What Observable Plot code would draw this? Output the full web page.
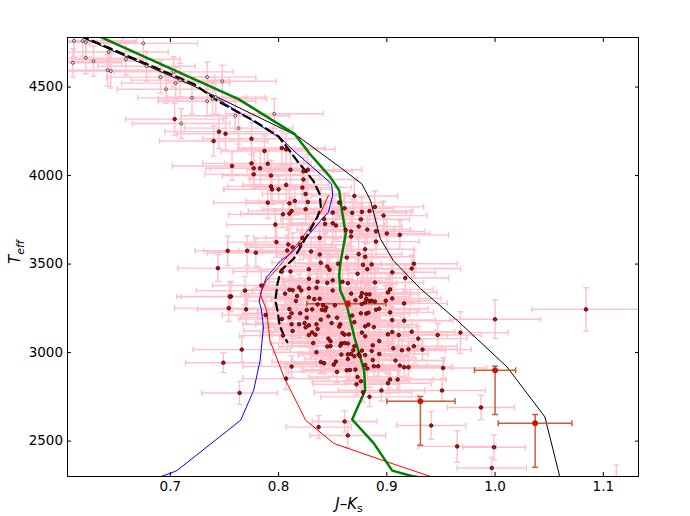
<!DOCTYPE html>
<html><head><meta charset="utf-8">
<script src="https://cdn.jsdelivr.net/npm/d3@7"></script>
<script src="https://cdn.jsdelivr.net/npm/@observablehq/plot@0.6"></script>
<style>body{margin:0;background:#fff;} #chart svg{display:block}</style>
</head><body><div id="chart"></div>
<script>
// [J-Ks, Teff, sigma(J-Ks), sigma(Teff)]
const stars = [
[0.704,4319,0.045,90],[0.745,4248,0.050,95],[0.751,4236,0.045,90],[0.740,4195,0.050,85],[0.775,4208,0.045,90],
[0.787,4139,0.040,85],[0.757,4054,0.055,80],[0.775,4069,0.045,85],[0.777,4041,0.040,90],[0.777,4007,0.045,80],
[0.783,4041,0.050,95],[0.790,4067,0.040,75],[0.793,4000,0.045,85],[0.811,4033,0.040,90],[0.823,4024,0.045,80],
[0.827,4033,0.050,85],[0.803,4156,0.040,95],[0.807,4148,0.045,90],[0.793,3939,0.040,80],[0.794,3922,0.045,85],
[0.800,3922,0.050,75],[0.807,3947,0.040,90],[0.822,3932,0.045,80],[0.825,3896,0.040,85],[0.823,3978,0.050,90],
[0.815,3857,0.045,80],[0.810,3843,0.040,75],[0.827,3851,0.045,85],[0.790,3847,0.050,90],[0.812,3800,0.040,80],
[0.810,3785,0.045,85],[0.804,3781,0.050,75],[0.825,3810,0.040,80],[0.797,3723,0.045,90],[0.842,3755,0.040,85],
[0.850,3791,0.045,80],[0.856,3847,0.040,90],[0.861,3815,0.045,85],[0.868,3789,0.050,80],[0.843,3727,0.045,75],
[0.850,3731,0.040,85],[0.853,3718,0.045,80],[0.874,3712,0.040,85],[0.862,3693,0.045,90],[0.838,3648,0.050,80],
[0.822,3648,0.045,85],[0.870,3885,0.040,90],[0.877,3795,0.045,80],[0.884,3800,0.040,85],[0.889,3823,0.045,90],
[0.897,3774,0.040,80],[0.876,3753,0.045,85],[0.882,3695,0.040,80],[0.890,3685,0.045,75],[0.900,3673,0.040,85],
[0.912,3665,0.045,80],[0.867,3684,0.040,85],[0.867,3656,0.045,80],[0.890,3627,0.040,90],[0.880,3584,0.045,80],
[0.874,3556,0.040,85],[0.880,3541,0.045,80],[0.863,3537,0.040,75],[0.878,3496,0.045,85],[0.886,3498,0.040,80],
[0.882,3471,0.045,85],[0.925,3502,0.040,80],[0.923,3475,0.045,75],[0.905,3454,0.040,85],[0.873,3445,0.045,80],
[0.917,3421,0.040,75],[0.889,3396,0.045,85],[0.903,3357,0.040,80],[0.901,3340,0.045,75],[0.867,3333,0.040,80],
[0.877,3336,0.045,85],[0.881,3329,0.040,75],[0.884,3329,0.045,80],[0.871,3296,0.040,85],[0.876,3316,0.045,80],
[0.881,3304,0.040,75],[0.905,3306,0.045,80],[0.899,3293,0.040,85],[0.880,3284,0.045,75],[0.884,3291,0.040,80],
[0.886,3293,0.045,70],[0.889,3289,0.040,80],[0.877,3274,0.045,75],[0.916,3278,0.040,80],[0.893,3248,0.045,75],
[0.890,3242,0.040,80],[0.876,3222,0.045,70],[0.881,3220,0.040,75],[0.883,3225,0.045,80],[0.903,3227,0.040,75],
[0.868,3209,0.045,70],[0.905,3184,0.040,75],[0.916,3180,0.045,70],[0.880,3148,0.040,75],[0.883,3158,0.045,70],
[0.888,3144,0.040,75],[0.798,3624,0.045,85],[0.809,3611,0.040,80],[0.820,3609,0.045,85],[0.813,3595,0.040,80],
[0.830,3571,0.045,75],[0.771,3575,0.040,85],[0.779,3564,0.045,80],[0.838,3554,0.040,75],[0.839,3507,0.045,80],
[0.845,3486,0.040,75],[0.847,3468,0.045,80],[0.855,3502,0.040,75],[0.803,3458,0.045,80],[0.811,3458,0.040,85],
[0.828,3471,0.045,75],[0.828,3417,0.040,80],[0.836,3400,0.045,75],[0.845,3394,0.040,80],[0.850,3408,0.045,70],
[0.859,3400,0.040,75],[0.864,3392,0.045,80],[0.810,3355,0.040,75],[0.813,3352,0.045,80],[0.819,3368,0.040,75],
[0.821,3351,0.045,70],[0.828,3362,0.040,75],[0.835,3366,0.045,80],[0.850,3351,0.040,70],[0.769,3350,0.045,80],
[0.806,3333,0.040,75],[0.817,3319,0.045,70],[0.828,3312,0.040,75],[0.816,3291,0.045,70],[0.833,3302,0.040,75],
[0.838,3304,0.045,70],[0.836,3272,0.040,75],[0.841,3268,0.045,70],[0.844,3255,0.040,75],[0.852,3267,0.045,70],
[0.756,3317,0.050,85],[0.770,3244,0.045,80],[0.810,3246,0.040,75],[0.812,3222,0.045,70],[0.820,3222,0.040,75],
[0.826,3240,0.045,70],[0.831,3244,0.040,75],[0.840,3242,0.045,70],[0.843,3238,0.040,75],[0.846,3205,0.045,70],
[0.854,3197,0.040,75],[0.810,3199,0.045,70],[0.803,3189,0.040,75],[0.826,3197,0.045,70],[0.839,3186,0.040,75],
[0.812,3160,0.045,70],[0.819,3160,0.040,75],[0.824,3167,0.045,70],[0.828,3154,0.040,65],[0.835,3160,0.045,70],
[0.849,3167,0.040,75],[0.857,3160,0.045,70],[0.825,3143,0.040,65],[0.831,3114,0.045,70],[0.834,3101,0.040,65],
[0.828,3099,0.045,70],[0.836,3133,0.040,65],[0.856,3147,0.045,70],[0.804,3096,0.040,65],[0.813,3122,0.045,70],
[0.832,3054,0.040,65],[0.846,3079,0.045,70],[0.848,3064,0.040,65],[0.845,3034,0.045,70],[0.848,3037,0.040,65],
[0.858,3052,0.045,60],[0.861,3054,0.040,65],[0.857,3039,0.045,60],[0.864,3051,0.040,65],[0.861,3101,0.045,70],
[0.859,3110,0.040,65],[0.865,3103,0.045,70],[0.858,2989,0.040,60],[0.864,2990,0.045,65],[0.835,3002,0.040,60],
[0.839,2947,0.045,65],[0.842,2940,0.040,60],[0.851,2932,0.045,65],[0.853,2949,0.040,60],[0.854,2891,0.045,60],
[0.864,2964,0.040,65],[0.867,2992,0.045,60],[0.869,3013,0.040,65],[0.874,2990,0.045,60],[0.863,2900,0.040,60],
[0.866,2902,0.045,55],[0.871,2904,0.040,60],[0.873,2862,0.045,55],[0.872,2821,0.040,60],[0.812,2921,0.045,60],
[0.807,2853,0.040,60],[0.766,3017,0.045,70],[0.764,2772,0.035,65],[0.877,3113,0.045,70],[0.880,3092,0.040,65],
[0.901,3103,0.045,70],[0.905,3116,0.040,65],[0.911,3099,0.045,70],[0.923,3118,0.040,65],[0.929,3079,0.045,70],
[0.947,3099,0.040,65],[0.968,3113,0.044,118],[0.893,3065,0.040,65],[0.887,3041,0.045,60],[0.870,3036,0.040,65],
[0.877,3011,0.045,60],[0.886,3009,0.040,65],[0.893,2992,0.045,60],[0.870,2979,0.040,65],[0.875,2981,0.045,60],
[0.880,2986,0.040,55],[0.906,3024,0.045,60],[0.914,3013,0.040,65],[0.920,3019,0.045,60],[0.925,3036,0.040,65],
[0.933,3017,0.045,60],[0.887,2958,0.040,60],[0.908,2955,0.045,55],[0.912,2927,0.040,60],[0.916,2917,0.045,55],
[0.920,2917,0.040,60],[0.880,2930,0.045,55],[0.888,2923,0.040,60],[0.892,2923,0.045,55],[0.882,2910,0.040,60],
[0.952,2913,0.040,58],[0.910,2848,0.045,55],[0.903,2848,0.040,60],[0.876,2838,0.045,55],[0.901,2827,0.040,60],
[0.878,2776,0.045,55],[0.895,2786,0.040,60],[0.951,2786,0.040,60],[0.884,2750,0.045,55],[0.870,3172,0.040,70],
[1.000,3188,0.042,108],[1.084,3244,0.050,122],[0.987,2690,0.031,69],[0.941,2588,0.032,79],[0.965,2470,0.036,89],
[0.999,2465,0.029,70],[0.997,2348,0.032,60],[0.861,2611,0.030,60],[0.864,2532,0.035,70],[0.837,2579,0.030,65],
[0.753,3575,0.030,83],[0.744,3477,0.037,76],[0.755,3316,0.045,80],[0.754,3251,0.050,75],[0.749,2943,0.035,56],
[0.784,3379,0.045,80],[0.788,3212,0.040,75],[0.808,3577,0.045,85],[1.112,2270,0.030,95]
];
// hotter stars drawn with open markers
const hotStars = [
[0.611,4761,0.045,90],[0.619,4760,0.050,85],[0.622,4753,0.045,95],[0.675,4747,0.050,90],[0.610,4637,0.045,80],
[0.622,4665,0.050,90],[0.629,4646,0.045,85],[0.643,4698,0.055,95],[0.659,4657,0.050,90],[0.678,4618,0.045,85],
[0.642,4595,0.050,90],[0.645,4590,0.045,95],[0.691,4556,0.050,90],[0.703,4586,0.055,85],[0.709,4539,0.045,95],
[0.705,4522,0.050,90],[0.734,4556,0.045,85],[0.748,4533,0.050,90],[0.696,4488,0.045,80],[0.720,4439,0.050,90],
[0.734,4420,0.045,85],[0.739,4433,0.050,90],[0.742,4443,0.045,95],[0.760,4338,0.050,90],[0.710,4294,0.045,85],
[0.763,4268,0.050,90],[0.796,4349,0.045,85]
];
// highlighted stars: [J-Ks, Teff, J-Ks low, J-Ks high, Teff low, Teff high]
const flagged = [
[0.864,3276,0.826,0.899,3262,3290],
[0.931,2725,0.900,0.963,2477,2752],
[1.000,2900,0.981,1.019,2650,2923],
[1.037,2601,1.003,1.071,2352,2650]
];
// model sequences [J-Ks, Teff]
const modelBlack = [[0.615,4790],[0.721,4507],[0.758,4400],[0.818,4221],[0.857,4046],[0.877,3953],[0.885,3859],
[0.894,3643],[0.906,3520],[0.931,3361],[0.965,3182],[1.011,2919],[1.046,2637],[1.059,2318],[1.061,2250]];
const modelDashed = [[0.617,4790],[0.722,4516],[0.746,4413],[0.777,4310],[0.800,4221],[0.809,4150],[0.817,4084],
[0.824,4032],[0.832,3971],[0.838,3896],[0.839,3821],[0.836,3768],[0.829,3689],[0.814,3530],[0.802,3464],
[0.799,3389],[0.797,3295],[0.799,3238],[0.801,3154],[0.806,3079],[0.808,3060]];
const modelBlue = [[0.745,4428],[0.803,4206],[0.814,4140],[0.849,3953],[0.850,3887],[0.846,3793],[0.839,3746],
[0.826,3652],[0.811,3558],[0.802,3520],[0.789,3426],[0.785,3370],[0.782,3291],[0.784,3248],[0.786,3144],
[0.783,2957],[0.777,2787],[0.765,2618],[0.706,2333],[0.700,2318],[0.691,2299]];
const modelRed = [[0.846,3887],[0.839,3793],[0.820,3633],[0.805,3520],[0.789,3408],[0.783,3333],[0.786,3285],
[0.789,3238],[0.792,3069],[0.805,2862],[0.825,2618],[0.851,2487],[0.857,2474],[0.900,2383],[0.939,2303],[0.945,2290]];
const modelGreen = [[0.633,4790],[0.763,4432],[0.815,4234],[0.829,4122],[0.848,3990],[0.856,3915],[0.859,3784],
[0.862,3671],[0.857,3502],[0.856,3436],[0.857,3351],[0.863,3267],[0.870,3088],[0.879,2900],[0.880,2787],
[0.868,2622],[0.888,2487],[0.905,2333],[0.923,2303],[0.935,2290]];
const xTicks = [0.7, 0.8, 0.9, 1.0, 1.1];
const yTicks = [2500, 3000, 3500, 4000, 4500];

const toRow = d => ({x: d[0], y: d[1], x1: d[0] - d[2], x2: d[0] + d[2], y1: d[1] - d[3], y2: d[1] + d[3]});
const barRows = [...hotStars, ...stars].map(toRow);
const flagRows = flagged.map(d => ({x: d[0], y: d[1], x1: d[2], x2: d[3], y1: d[4], y2: d[5]}));
const vCap = {draw(c, s) { const h = Math.sqrt(s / Math.PI); c.moveTo(0, -h); c.lineTo(0, h); }};
const hCap = {draw(c, s) { const h = Math.sqrt(s / Math.PI); c.moveTo(-h, 0); c.lineTo(h, 0); }};
function errorBars(rows, color, w, op) {
  const o = {stroke: color, strokeWidth: w, strokeOpacity: op, clip: true};
  return [
    Plot.ruleY(rows, {y: "y", x1: "x1", x2: "x2", ...o}),
    Plot.ruleX(rows, {x: "x", y1: "y1", y2: "y2", ...o}),
    Plot.dot(rows, {x: "x1", y: "y", symbol: vCap, r: 3, fill: "none", ...o}),
    Plot.dot(rows, {x: "x2", y: "y", symbol: vCap, r: 3, fill: "none", ...o}),
    Plot.dot(rows, {x: "x", y: "y1", symbol: hCap, r: 3, fill: "none", ...o}),
    Plot.dot(rows, {x: "x", y: "y2", symbol: hCap, r: 3, fill: "none", ...o})
  ];
}
const line = (data, stroke, strokeWidth, extra = {}) =>
  Plot.line(data, {x: d => d[0], y: d => d[1], stroke, strokeWidth, clip: true, ...extra});

const chart = Plot.plot({
  width: 690, height: 516,
  marginLeft: 67, marginRight: 52, marginTop: 37, marginBottom: 40,
  style: {fontFamily: "DejaVu Sans", fontSize: "13.5px", background: "white", color: "black"},
  x: {domain: [0.605, 1.1325]},
  y: {domain: [2300, 4780]},
  marks: [
    ...errorBars(barRows, "#ffc0cb", 1.4, 1),
    line(modelBlack, "black", 1),
    line(modelBlue, "#0000ff", 1),
    line(modelRed, "#ff0000", 1),
    line(modelDashed, "black", 2.2, {strokeDasharray: "8,5"}),
    line(modelGreen, "#008000", 2.5),
    ...errorBars(flagRows, "#bf4f23", 1.5, 0.9),
    Plot.dot(hotStars, {x: d => d[0], y: d => d[1], r: 1.5, fill: "#f3d6d6", stroke: "#222", strokeWidth: 0.7, clip: true}),
    Plot.dot(stars, {x: d => d[0], y: d => d[1], r: 1.8, fill: "#e00000", stroke: "black", strokeWidth: 0.7, clip: true}),
    Plot.dot(flagged, {x: d => d[0], y: d => d[1], r: 2.6, fill: "#f00000", stroke: "#8b2a10", strokeWidth: 0.7}),
    Plot.frame({stroke: "black", strokeWidth: 1}),
    Plot.axisX(xTicks, {anchor: "bottom", tickSize: -4, tickPadding: 9, tickFormat: d3.format(".1f"), label: null}),
    Plot.axisX(xTicks, {anchor: "top", tickSize: -4, tickFormat: () => "", label: null}),
    Plot.axisY(yTicks, {anchor: "left", tickSize: -4, tickPadding: 8.5, tickFormat: d => String(d), label: null}),
    Plot.axisY(yTicks, {anchor: "right", tickSize: -4, tickFormat: () => "", label: null})
  ]
});
document.getElementById("chart").appendChild(chart);

const svg = d3.select(chart);
const yl = svg.append("text")
  .attr("transform", "translate(20,252) rotate(-90)")
  .attr("text-anchor", "middle")
  .style("font-family", "DejaVu Sans").style("font-size", "15px").attr("fill", "black");
yl.append("tspan").style("font-style", "italic").text("T");
yl.append("tspan").attr("dy", 4).style("font-size", "11px").style("font-style", "italic").text("eff");
const xl = svg.append("text")
  .attr("x", 349).attr("y", 509)
  .attr("text-anchor", "middle")
  .style("font-family", "DejaVu Sans").style("font-size", "15px").attr("fill", "black");
xl.append("tspan").style("font-style", "italic").text("J");
xl.append("tspan").text("\u2013");
xl.append("tspan").style("font-style", "italic").text("K");
xl.append("tspan").attr("dy", 3).style("font-size", "11px").text("s");
</script>
</body></html>
